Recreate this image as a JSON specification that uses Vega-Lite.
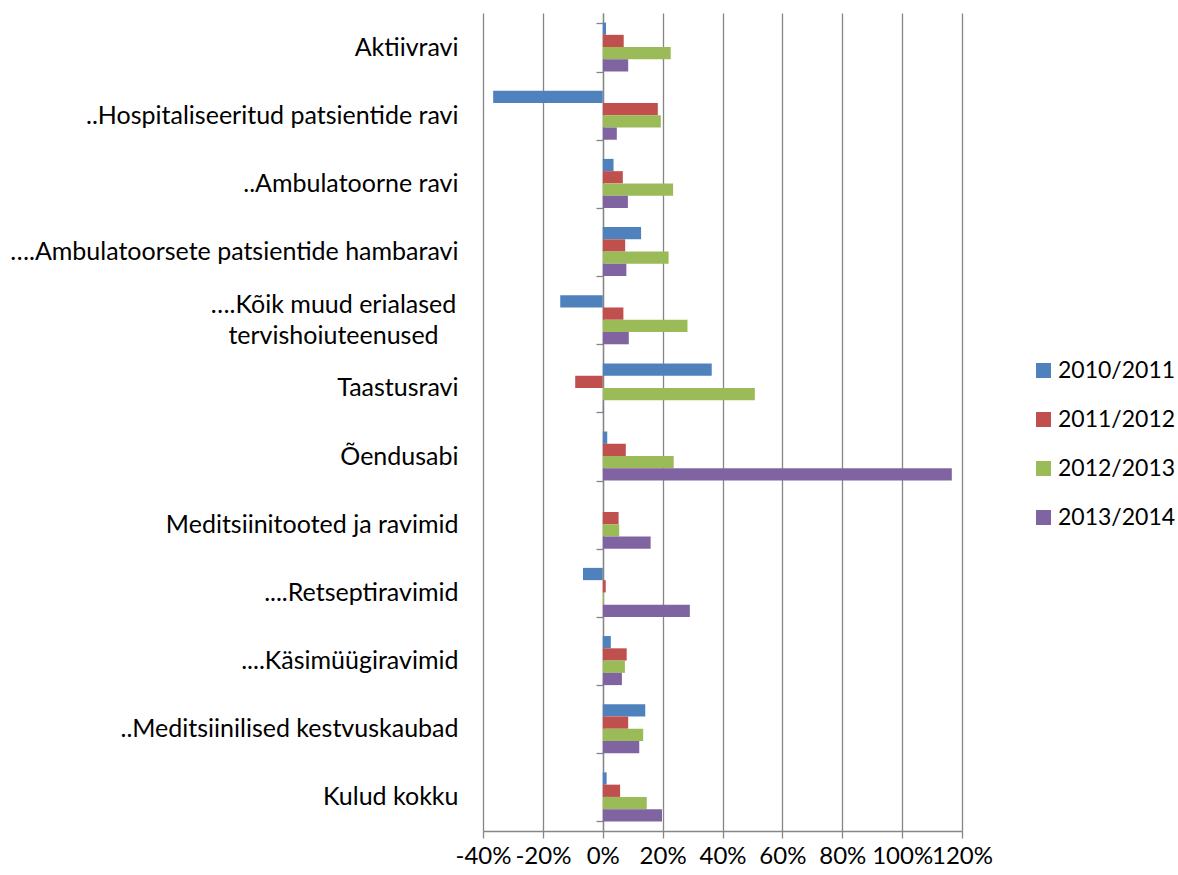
{
  "$schema": "https://vega.github.io/schema/vega-lite/v6.json",
  "width": 479,
  "height": 818,
  "autosize": {"type": "none"},
  "padding": {"left": 483, "top": 13, "right": 216, "bottom": 44},
  "config": {
    "view": {"stroke": null},
    "font": "Lato",
    "axis": {"labelColor": "#000000", "labelFont": "Lato"},
    "legend": {"labelColor": "#000000", "labelFont": "Lato"}
  },
  "data": {
    "values": [
      {"kategooria": "Aktiivravi", "periood": "2010/2011", "muutus": 0.011},
      {"kategooria": "Aktiivravi", "periood": "2011/2012", "muutus": 0.070},
      {"kategooria": "Aktiivravi", "periood": "2012/2013", "muutus": 0.227},
      {"kategooria": "Aktiivravi", "periood": "2013/2014", "muutus": 0.085},
      {"kategooria": "..Hospitaliseeritud patsientide ravi", "periood": "2010/2011", "muutus": -0.366},
      {"kategooria": "..Hospitaliseeritud patsientide ravi", "periood": "2011/2012", "muutus": 0.184},
      {"kategooria": "..Hospitaliseeritud patsientide ravi", "periood": "2012/2013", "muutus": 0.194},
      {"kategooria": "..Hospitaliseeritud patsientide ravi", "periood": "2013/2014", "muutus": 0.047},
      {"kategooria": "..Ambulatoorne ravi", "periood": "2010/2011", "muutus": 0.036},
      {"kategooria": "..Ambulatoorne ravi", "periood": "2011/2012", "muutus": 0.067},
      {"kategooria": "..Ambulatoorne ravi", "periood": "2012/2013", "muutus": 0.235},
      {"kategooria": "..Ambulatoorne ravi", "periood": "2013/2014", "muutus": 0.084},
      {"kategooria": "….Ambulatoorsete patsientide hambaravi", "periood": "2010/2011", "muutus": 0.128},
      {"kategooria": "….Ambulatoorsete patsientide hambaravi", "periood": "2011/2012", "muutus": 0.075},
      {"kategooria": "….Ambulatoorsete patsientide hambaravi", "periood": "2012/2013", "muutus": 0.220},
      {"kategooria": "….Ambulatoorsete patsientide hambaravi", "periood": "2013/2014", "muutus": 0.079},
      {"kategooria": "….Kõik muud erialased|tervishoiuteenused", "periood": "2010/2011", "muutus": -0.142},
      {"kategooria": "….Kõik muud erialased|tervishoiuteenused", "periood": "2011/2012", "muutus": 0.069},
      {"kategooria": "….Kõik muud erialased|tervishoiuteenused", "periood": "2012/2013", "muutus": 0.283},
      {"kategooria": "….Kõik muud erialased|tervishoiuteenused", "periood": "2013/2014", "muutus": 0.087},
      {"kategooria": "Taastusravi", "periood": "2010/2011", "muutus": 0.364},
      {"kategooria": "Taastusravi", "periood": "2011/2012", "muutus": -0.092},
      {"kategooria": "Taastusravi", "periood": "2012/2013", "muutus": 0.508},
      {"kategooria": "Taastusravi", "periood": "2013/2014", "muutus": 0.002},
      {"kategooria": "Õendusabi", "periood": "2010/2011", "muutus": 0.015},
      {"kategooria": "Õendusabi", "periood": "2011/2012", "muutus": 0.077},
      {"kategooria": "Õendusabi", "periood": "2012/2013", "muutus": 0.237},
      {"kategooria": "Õendusabi", "periood": "2013/2014", "muutus": 1.166},
      {"kategooria": "Meditsiinitooted ja ravimid", "periood": "2010/2011", "muutus": 0.0},
      {"kategooria": "Meditsiinitooted ja ravimid", "periood": "2011/2012", "muutus": 0.053},
      {"kategooria": "Meditsiinitooted ja ravimid", "periood": "2012/2013", "muutus": 0.055},
      {"kategooria": "Meditsiinitooted ja ravimid", "periood": "2013/2014", "muutus": 0.160},
      {"kategooria": "....Retseptiravimid", "periood": "2010/2011", "muutus": -0.066},
      {"kategooria": "....Retseptiravimid", "periood": "2011/2012", "muutus": 0.010},
      {"kategooria": "....Retseptiravimid", "periood": "2012/2013", "muutus": 0.004},
      {"kategooria": "....Retseptiravimid", "periood": "2013/2014", "muutus": 0.291},
      {"kategooria": "....Käsimüügiravimid\u00a0", "periood": "2010/2011", "muutus": 0.027},
      {"kategooria": "....Käsimüügiravimid\u00a0", "periood": "2011/2012", "muutus": 0.080},
      {"kategooria": "....Käsimüügiravimid\u00a0", "periood": "2012/2013", "muutus": 0.074},
      {"kategooria": "....Käsimüügiravimid\u00a0", "periood": "2013/2014", "muutus": 0.064},
      {"kategooria": "..Meditsiinilised kestvuskaubad", "periood": "2010/2011", "muutus": 0.142},
      {"kategooria": "..Meditsiinilised kestvuskaubad", "periood": "2011/2012", "muutus": 0.085},
      {"kategooria": "..Meditsiinilised kestvuskaubad", "periood": "2012/2013", "muutus": 0.135},
      {"kategooria": "..Meditsiinilised kestvuskaubad", "periood": "2013/2014", "muutus": 0.122},
      {"kategooria": "Kulud kokku", "periood": "2010/2011", "muutus": 0.013},
      {"kategooria": "Kulud kokku", "periood": "2011/2012", "muutus": 0.058},
      {"kategooria": "Kulud kokku", "periood": "2012/2013", "muutus": 0.147},
      {"kategooria": "Kulud kokku", "periood": "2013/2014", "muutus": 0.198}
    ]
  },
  "mark": {"type": "bar"},
  "encoding": {
    "y": {
      "field": "kategooria",
      "type": "nominal",
      "sort": null,
      "scale": {"paddingInner": 0.28, "paddingOuter": 0.14},
      "axis": {
        "title": null,
        "orient": "left",
        "offset": -120,
        "domainColor": "#868686",
        "domainWidth": 1.3,
        "tickColor": "#868686",
        "tickWidth": 1.3,
        "tickBand": "extent",
        "tickSize": 7,
        "labelFontSize": 25,
        "labelLimit": 600,
        "labelLineHeight": 31,
        "labelExpr": "split(datum.label, '|')",
        "labelAlign": {"condition": {"test": "indexof(datum.label, '|') >= 0", "value": "center"}, "value": "right"},
        "labelPadding": {"condition": {"test": "indexof(datum.label, '|') >= 0", "value": 263}, "value": 138},
        "labelOffset": {"condition": {"test": "indexof(datum.label, '|') >= 0", "value": -15}, "value": 0}
      }
    },
    "yOffset": {
      "field": "periood",
      "type": "nominal",
      "sort": ["2010/2011", "2011/2012", "2012/2013", "2013/2014"],
      "scale": {"paddingInner": 0, "paddingOuter": 0}
    },
    "x": {
      "field": "muutus",
      "type": "quantitative",
      "scale": {"domain": [-0.4, 1.2], "nice": false, "zero": false},
      "axis": {
        "title": null,
        "values": [-0.4, -0.2, 0, 0.2, 0.4, 0.6, 0.8, 1.0, 1.2],
        "labelExpr": "round(datum.value * 100) + '%'",
        "labelFontSize": 24,
        "labelOverlap": false,
        "labelBound": false,
        "labelFlush": false,
        "labelPadding": 6,
        "grid": true,
        "gridColor": "#868686",
        "gridWidth": 1.3,
        "domainColor": "#868686",
        "domainWidth": 1.3,
        "tickColor": "#868686",
        "tickWidth": 1.3,
        "tickSize": 7
      }
    },
    "color": {
      "field": "periood",
      "type": "nominal",
      "scale": {
        "domain": ["2010/2011", "2011/2012", "2012/2013", "2013/2014"],
        "range": ["#4F81BD", "#C0504D", "#9BBB59", "#8064A2"]
      },
      "legend": {
        "title": null,
        "orient": "none",
        "legendX": 549,
        "legendY": 346,
        "symbolType": "square",
        "symbolSize": 225,
        "symbolStrokeWidth": 0,
        "labelFontSize": 23,
        "labelOffset": 3,
        "rowPadding": 25
      }
    }
  }
}
